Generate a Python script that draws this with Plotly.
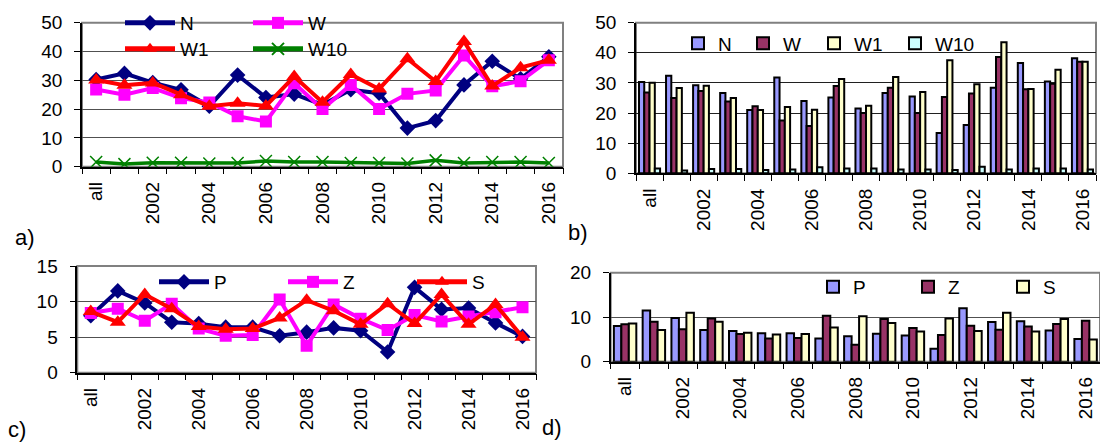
import plotly.graph_objects as go

categories = ["all"] + [str(y) for y in range(2001, 2017)]
tick_labels = ["all", "", "2002", "", "2004", "", "2006", "", "2008", "", "2010", "", "2012", "", "2014", "", "2016"]

N = [30.3, 32.4, 29.2, 26.7, 21.0, 31.8, 24.0, 25.2, 21.5, 26.7, 25.5, 13.4, 16.0, 28.4, 36.6, 30.5, 38.2]
W = [26.8, 25.0, 27.3, 23.8, 22.3, 17.5, 15.7, 29.0, 20.0, 28.4, 20.0, 25.3, 26.5, 38.6, 27.9, 29.7, 37.0]
W1 = [30.1, 28.3, 29.1, 25.0, 21.0, 22.0, 21.1, 31.3, 22.4, 32.0, 27.0, 37.5, 29.6, 43.5, 28.0, 34.4, 37.0]
W10 = [1.6, 0.9, 1.4, 1.4, 1.1, 1.3, 2.0, 1.6, 1.6, 1.3, 1.3, 1.1, 2.2, 1.3, 1.6, 1.6, 1.3]

P = [8.0, 11.5, 9.8, 7.1, 6.9, 6.4, 6.4, 5.2, 5.7, 6.3, 5.9, 2.9, 12.0, 8.9, 9.1, 7.0, 5.1]
Z = [8.4, 9.0, 7.3, 9.7, 6.2, 5.2, 5.3, 10.3, 3.8, 9.6, 7.6, 6.0, 8.1, 7.2, 7.9, 8.5, 9.2]
S = [8.6, 7.1, 11.0, 9.0, 6.5, 6.1, 6.2, 7.7, 10.2, 8.7, 6.8, 9.7, 6.9, 11.0, 6.8, 9.6, 5.0]

FONT = "Liberation Sans, Arial, sans-serif"
W_, H_ = 1100, 443

fig = go.Figure()

line_styles = {
    "N": dict(color="#000080", symbol="diamond", size=12),
    "W": dict(color="#FF00FF", symbol="square", size=12),
    "W1": dict(color="#FF0000", symbol="triangle-up", size=14),
    "W10": dict(color="#008000", symbol="x-thin", size=12),
    "P": dict(color="#000080", symbol="diamond", size=12),
    "Z": dict(color="#FF00FF", symbol="square", size=12),
    "S": dict(color="#FF0000", symbol="triangle-up", size=14),
}
bar_colors = {"N": "#9999FF", "W": "#993366", "W1": "#FFFFCC", "W10": "#CCFFFF",
              "P": "#9999FF", "Z": "#993366", "S": "#FFFFCC"}


def px_x(p):
    return p / W_


def px_y(p):
    return 1 - p / H_


legfont = dict(family=FONT, size=19, color="black")
legend_layout = {}
leg_counter = [0]


def new_legend(lx, ly, itemwidth=30):
    leg_counter[0] += 1
    lid = "legend" if leg_counter[0] == 1 else f"legend{leg_counter[0]}"
    legend_layout[lid] = dict(
        x=px_x(lx), y=px_y(ly), xanchor="left", yanchor="middle",
        orientation="h", bgcolor="rgba(0,0,0,0)", font=legfont,
        itemwidth=itemwidth, itemsizing="constant",
    )
    return lid


def add_line(name, vals, xa, ya, lx, ly):
    st = line_styles[name]
    thin = st["symbol"] == "x-thin"
    fig.add_trace(go.Scatter(
        x=categories, y=vals, name=name, mode="lines+markers",
        xaxis=xa, yaxis=ya, legend=new_legend(lx, ly, itemwidth=50),
        line=dict(color=st["color"], width=3.5 if thin else 4),
        marker=dict(symbol=st["symbol"], size=st["size"], color=st["color"],
                    line=dict(color=st["color"], width=1.5 if thin else 0)),
    ))


def add_bar(name, vals, xa, ya, lx, ly):
    fig.add_trace(go.Bar(
        x=categories, y=vals, name=name, xaxis=xa, yaxis=ya,
        legend=new_legend(lx, ly),
        marker=dict(color=bar_colors[name], line=dict(color="black", width=2)),
    ))


# panel a
add_line("N", N, "x", "y", 120, 23)
add_line("W", W, "x", "y", 248, 23)
add_line("W1", W1, "x", "y", 120, 49)
add_line("W10", W10, "x", "y", 248, 49)
# panel b
add_bar("N", N, "x2", "y2", 678, 43.5)
add_bar("W", W, "x2", "y2", 743, 43.5)
add_bar("W1", W1, "x2", "y2", 814, 43.5)
add_bar("W10", W10, "x2", "y2", 895, 43.5)
# panel c
add_line("P", P, "x3", "y3", 154, 282)
add_line("Z", Z, "x3", "y3", 283, 282)
add_line("S", S, "x3", "y3", 412, 282)
# panel d
add_bar("P", P, "x4", "y4", 813, 287)
add_bar("Z", Z, "x4", "y4", 908, 287)
add_bar("S", S, "x4", "y4", 1003, 287)

panels = {
    "": dict(x=(82, 563), y=(22.7, 166.7), rng=(0, 50), dt=10, grid="#505050"),
    "2": dict(x=(636, 1096), y=(22.7, 173.3), rng=(0, 50), dt=10, grid="#202020"),
    "3": dict(x=(77.3, 536), y=(266, 372.7), rng=(0, 15), dt=5, grid="#505050"),
    "4": dict(x=(610.7, 1100), y=(272.7, 361.7), rng=(0, 20), dt=10, grid="#505050"),
}

tickfont = dict(family=FONT, size=19, color="black")
for k, p in panels.items():
    xa = "xaxis" + k
    ya = "yaxis" + k
    fig.layout[xa] = dict(
        domain=[px_x(p["x"][0]), px_x(p["x"][1])], anchor="y" + k,
        type="category", categoryorder="array", categoryarray=categories,
        tickmode="array", tickvals=categories, ticktext=tick_labels,
        tickson="boundaries", ticks="outside", ticklen=6, tickcolor="black",
        tickangle=-90, tickfont=tickfont, ticklabelstandoff=6,
        showline=True, linecolor="black", linewidth=1.5,
        showgrid=False, range=[-0.5, 16.5], fixedrange=True, automargin=False,
    )
    fig.layout[ya] = dict(
        domain=[px_y(p["y"][1]), px_y(p["y"][0])], anchor="x" + k,
        range=list(p["rng"]), dtick=p["dt"], tick0=0,
        ticks="outside", ticklen=6, tickcolor="black", tickfont=tickfont,
        ticklabelstandoff=8, automargin=False,
        showline=True, linecolor="black", linewidth=1.5,
        showgrid=True, gridcolor=p["grid"], gridwidth=1, zeroline=False,
    )
    fig.add_shape(type="rect", xref=f"x{k} domain", yref=f"y{k} domain",
                  x0=0, x1=1, y0=0, y1=1, line=dict(color="#808080", width=2),
                  layer="below")

fig.update_layout(**legend_layout)

labels = [("a)", 13, 237), ("b)", 566, 232), ("c)", 6, 429), ("d)", 540, 427)]
for txt, lx, ly in labels:
    fig.add_annotation(text=txt, xref="paper", yref="paper", x=px_x(lx), y=px_y(ly),
                       xanchor="left", yanchor="middle", showarrow=False,
                       font=dict(family=FONT, size=22, color="black"))

fig.update_layout(
    width=W_, height=H_, margin=dict(l=0, r=0, t=0, b=0, pad=0, autoexpand=False),
    paper_bgcolor="white", plot_bgcolor="white",
    barmode="group", bargap=0.22, bargroupgap=0,
    showlegend=True,
)

fig.write_html("out.html")
